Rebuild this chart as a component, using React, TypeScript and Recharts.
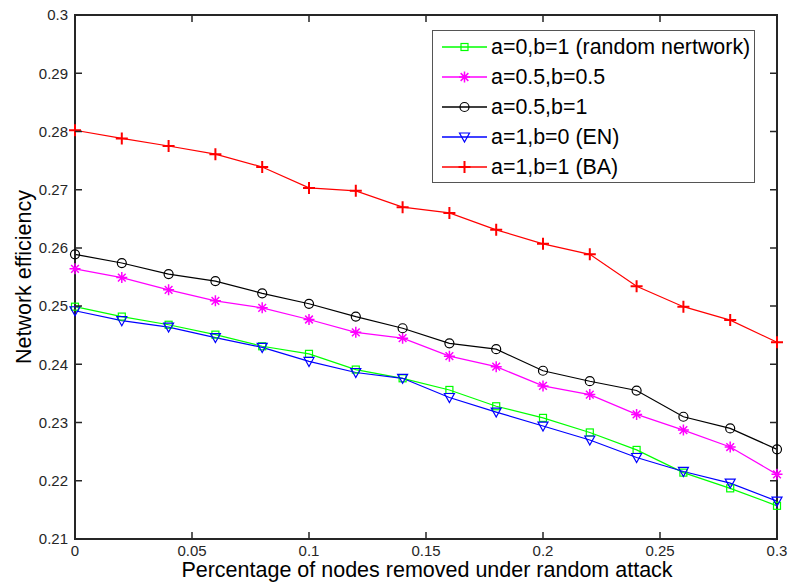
import { Label, Legend, Line, LineChart, XAxis, YAxis } from 'recharts'

const removed = [0, 0.02, 0.04, 0.06, 0.08, 0.1, 0.12, 0.14, 0.16, 0.18, 0.2, 0.22, 0.24, 0.26, 0.28, 0.3]
const randomNet = [0.2499, 0.2482, 0.2468, 0.2451, 0.2431, 0.2418, 0.2391, 0.2376, 0.2356, 0.2328, 0.2308, 0.2283, 0.2253, 0.2214, 0.2187, 0.2157]
const halfHalf = [0.2564, 0.2549, 0.2528, 0.2509, 0.2497, 0.2477, 0.2455, 0.2445, 0.2414, 0.2396, 0.2363, 0.2348, 0.2314, 0.2287, 0.2258, 0.2211]
const halfOne = [0.2589, 0.2574, 0.2555, 0.2543, 0.2522, 0.2504, 0.2482, 0.2462, 0.2436, 0.2426, 0.2389, 0.2371, 0.2355, 0.231, 0.229, 0.2254]
const enNet = [0.2492, 0.2475, 0.2464, 0.2446, 0.2429, 0.2405, 0.2386, 0.2376, 0.2343, 0.2318, 0.2294, 0.227, 0.224, 0.2216, 0.2196, 0.2165]
const baNet = [0.2802, 0.2788, 0.2775, 0.2761, 0.2739, 0.2703, 0.2698, 0.267, 0.266, 0.2631, 0.2607, 0.2589, 0.2534, 0.2499, 0.2476, 0.2438]

const xTicks = [0, 0.05, 0.1, 0.15, 0.2, 0.25, 0.3]
const yTicks = [0.21, 0.22, 0.23, 0.24, 0.25, 0.26, 0.27, 0.28, 0.29, 0.3]

type Kind = 'square' | 'star' | 'circle' | 'tri' | 'plus'

const series: { key: string; name: string; color: string; kind: Kind; values: number[] }[] = [
  { key: 'randomNet', name: 'a=0,b=1 (random nertwork)', color: '#00ff00', kind: 'square', values: randomNet },
  { key: 'halfHalf', name: 'a=0.5,b=0.5', color: '#ff00ff', kind: 'star', values: halfHalf },
  { key: 'halfOne', name: 'a=0.5,b=1', color: '#000000', kind: 'circle', values: halfOne },
  { key: 'enNet', name: 'a=1,b=0 (EN)', color: '#0000ff', kind: 'tri', values: enNet },
  { key: 'baNet', name: 'a=1,b=1 (BA)', color: '#ff0000', kind: 'plus', values: baNet },
]

const data = removed.map((x, i) => {
  const row: Record<string, number> = { x }
  series.forEach((s) => (row[s.key] = s.values[i]))
  return row
})

const font = '"Liberation Sans", Arial, Helvetica, sans-serif'
const axisColor = '#262626'
const W = 788
const H = 584
const xAxisH = 45
const yAxisW = 75
const margin = { top: 15, right: 11, bottom: 0, left: 0 }
const plotTop = margin.top
const plotRight = W - margin.right
const plotBottom = H - margin.bottom - xAxisH
const plotLeft = margin.left + yAxisW
const tickLen = 7
const xGap = 6
const yGap = 7

function marker(kind: Kind, cx: number, cy: number, color: string, key?: number) {
  switch (kind) {
    case 'square':
      return <rect key={key} x={cx - 3.5} y={cy - 3.5} width={7} height={7} fill="none" stroke={color} strokeWidth={1.2} />
    case 'star': {
      const r = 5.5
      const d = r * 0.7
      return (
        <path
          key={key}
          d={`M${cx - r},${cy}H${cx + r}M${cx},${cy - r}V${cy + r}M${cx - d},${cy - d}L${cx + d},${cy + d}M${cx - d},${cy + d}L${cx + d},${cy - d}`}
          stroke={color}
          strokeWidth={1.5}
          fill="none"
        />
      )
    }
    case 'circle':
      return <circle key={key} cx={cx} cy={cy} r={4.5} fill="none" stroke={color} strokeWidth={1.2} />
    case 'tri':
      return (
        <path
          key={key}
          d={`M${cx - 5},${cy - 4}L${cx + 5},${cy - 4}L${cx},${cy + 5}Z`}
          fill="none"
          stroke={color}
          strokeWidth={1.2}
        />
      )
    default:
      return (
        <path
          key={key}
          d={`M${cx - 6},${cy}H${cx + 6}M${cx},${cy - 6}V${cy + 6}`}
          stroke={color}
          strokeWidth={2}
          fill="none"
        />
      )
  }
}

const fmt = (v: number) => String(+v.toFixed(2))

// inward ticks on both sides of the box, drawn with the labels
function BottomTick(p: any) {
  return (
    <g>
      <path
        d={`M${p.x},${plotBottom}V${plotBottom - tickLen}M${p.x},${plotTop}V${plotTop + tickLen}`}
        fill="none"
        stroke={axisColor}
        strokeWidth={1.5}
      />
      <text x={p.x} y={p.y} dy="0.71em" textAnchor="middle" fill={axisColor} fontSize={15} fontFamily={font}>
        {fmt(p.payload.value)}
      </text>
    </g>
  )
}

function LeftTick(p: any) {
  return (
    <g>
      <path
        d={`M${plotLeft},${p.y}H${plotLeft + tickLen}M${plotRight},${p.y}H${plotRight - tickLen}`}
        fill="none"
        stroke={axisColor}
        strokeWidth={1.5}
      />
      <text x={p.x} y={p.y} dy="0.355em" textAnchor="end" fill={axisColor} fontSize={15} fontFamily={font}>
        {fmt(p.payload.value)}
      </text>
    </g>
  )
}

function LegendBox() {
  return (
    <div
      style={{
        width: 323,
        height: 153,
        boxSizing: 'border-box',
        border: '1px solid #555',
        background: '#fff',
        paddingTop: 1,
        fontFamily: font,
      }}
    >
      {series.map((s) => (
        <div key={s.key} style={{ display: 'flex', alignItems: 'center', height: 30 }}>
          <svg width={58} height={30} style={{ flex: 'none' }}>
            <path d="M9,15H54" stroke={s.color} strokeWidth={1.5} />
            {marker(s.kind, 31.5, 15, s.color)}
          </svg>
          <span style={{ fontSize: 21.4, color: '#000', whiteSpace: 'nowrap' }}>{s.name}</span>
        </div>
      ))}
    </div>
  )
}

export default function App() {
  return (
    <div style={{ position: 'absolute', left: 0, top: 0 }}>
      <LineChart width={W} height={H} data={data} margin={margin}>
        <XAxis
          dataKey="x"
          type="number"
          domain={[0, 0.3]}
          ticks={xTicks}
          height={xAxisH}
          axisLine={false}
          tickLine={false}
          tickSize={0}
          tickMargin={xGap}
          tick={BottomTick}
        >
          <Label
            content={() => (
              <g>
                <path
                  d={`M${plotLeft},${plotTop}H${plotRight}V${plotBottom}H${plotLeft}Z`}
                  fill="none"
                  stroke={axisColor}
                  strokeWidth={2}
                />
                <text x={(plotLeft + plotRight) / 2 + 1} y={577} textAnchor="middle" fontSize={21.5} fontFamily={font} fill="#000">
                  Percentage of nodes removed under random attack
                </text>
              </g>
            )}
          />
        </XAxis>
        <YAxis
          type="number"
          domain={[0.21, 0.3]}
          ticks={yTicks}
          width={yAxisW}
          axisLine={false}
          tickLine={false}
          tickSize={0}
          tickMargin={yGap}
          tick={LeftTick}
        >
          <Label
            content={() => (
              <text
                x={24}
                y={277}
                transform="rotate(-90, 24, 277)"
                textAnchor="middle"
                dominantBaseline="central"
                fontSize={21.5}
                fontFamily={font}
                fill="#000"
              >
                Network efficiency
              </text>
            )}
          />
        </YAxis>
        <Legend
          layout="horizontal"
          verticalAlign="middle"
          align="center"
          wrapperStyle={{ top: 30, left: 432, width: 323, height: 153 }}
          content={() => <LegendBox />}
        />
        {series.map((s) => (
          <Line
            key={s.key}
            dataKey={s.key}
            name={s.name}
            type="linear"
            stroke={s.color}
            strokeWidth={1.2}
            isAnimationActive={false}
            dot={(p: any) => marker(s.kind, p.cx, p.cy, s.color, p.index)}
            activeDot={false}
          />
        ))}
      </LineChart>
    </div>
  )
}
